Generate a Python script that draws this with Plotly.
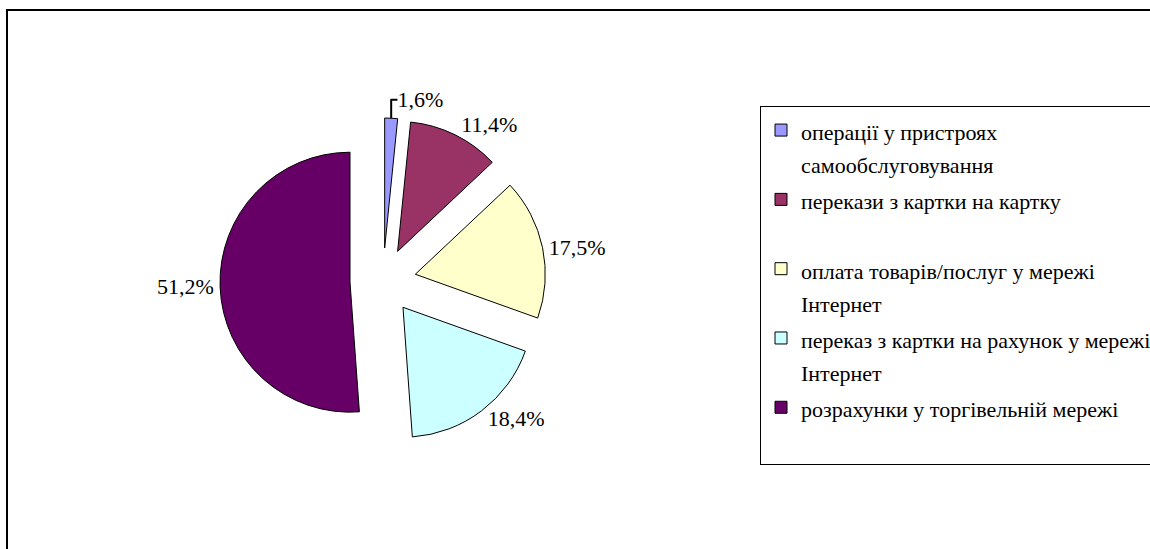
import plotly.graph_objects as go

categories = [
    "операції у пристроях<br>самообслуговування",
    "перекази з картки на картку<br> ",
    "оплата товарів/послуг у мережі<br>Інтернет",
    "переказ з картки на рахунок у мережі<br>Інтернет",
    "розрахунки у торгівельній мережі<br> ",
]
shares = [1.6, 11.4, 17.5, 18.4, 51.2]
colors = ["#9999FF", "#993366", "#FFFFCC", "#CCFFFF", "#660066"]

W, H = 1150, 549
FONT = "Times New Roman, Liberation Serif, Tinos, DejaVu Serif, serif"
TXT = 22

legend_labels = [
    "<br>".join(f"<span style='font-size:{TXT}px'>{ln}</span>" for ln in c.split("<br>"))
    for c in categories
]

fig = go.Figure(
    go.Pie(
        labels=legend_labels,
        values=shares,
        sort=False,
        direction="clockwise",
        rotation=0,
        pull=[0.254] * len(shares),
        marker=dict(colors=colors, line=dict(color="black", width=1)),
        texttemplate="%{value:.1f}%",
        textposition="outside",
        textfont=dict(family=FONT, size=TXT, color="black"),
        domain=dict(x=[220 / W, 546 / W], y=[1 - 444 / H, 1 - 118 / H]),
        hoverinfo="value",
    )
)

fig.update_layout(
    width=W,
    height=H,
    margin=dict(l=0, r=0, t=0, b=0, autoexpand=False),
    paper_bgcolor="white",
    plot_bgcolor="white",
    separators=", ",
    font=dict(family=FONT, size=TXT, color="black"),
    showlegend=True,
    legend=dict(
        x=760 / W,
        y=1 - 106 / H,
        xanchor="left",
        yanchor="top",
        bgcolor="white",
        bordercolor="black",
        borderwidth=1,
        valign="top",
        font=dict(family=FONT, size=25.5, color="black"),
    ),
    shapes=[
        dict(
            type="rect",
            xref="paper",
            yref="paper",
            x0=7 / W,
            x1=1.1,
            y0=-0.1,
            y1=1 - 10 / H,
            line=dict(color="black", width=2),
            fillcolor="rgba(0,0,0,0)",
        )
    ],
)

fig.write_html(
    "out.html",
    config={"displayModeBar": False},
    post_script="document.body.style.margin='0';document.body.style.overflow='hidden';",
)
